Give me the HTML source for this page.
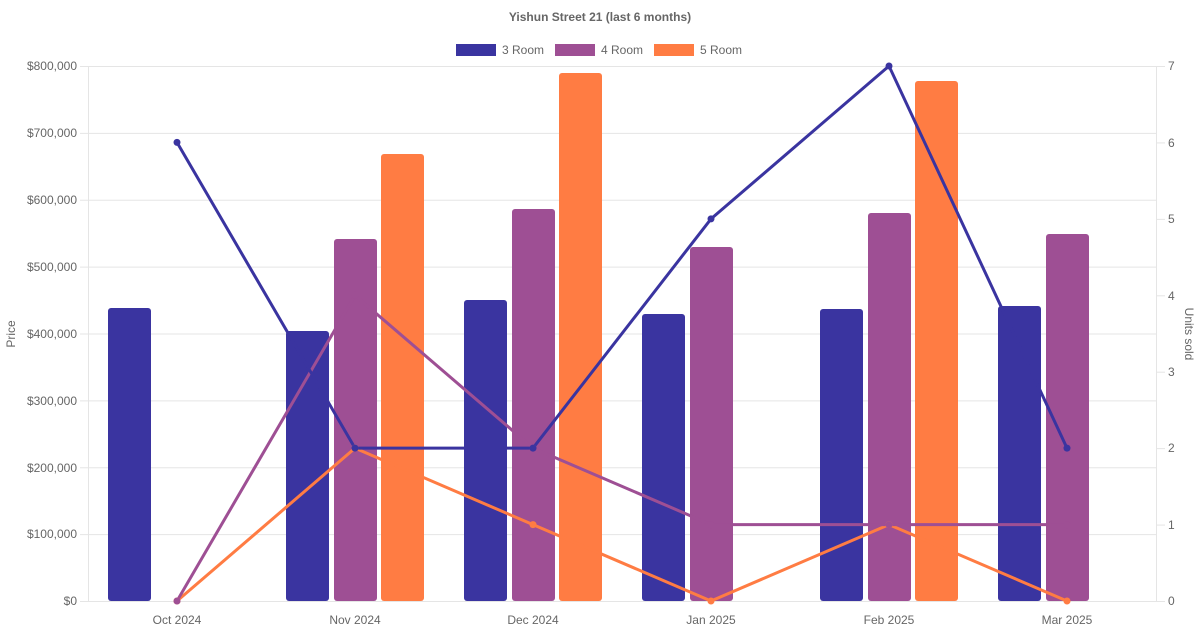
<!DOCTYPE html>
<html><head><meta charset="utf-8"><style>
html,body{margin:0;padding:0;background:#fff;}
svg{display:block;font-family:"Liberation Sans",sans-serif;}
</style></head><body>
<svg width="1200" height="630" xmlns="http://www.w3.org/2000/svg">
<text x="600" y="21" text-anchor="middle" font-size="12" font-weight="bold" fill="#666">Yishun Street 21 (last 6 months)</text>
<rect x="456" y="44" width="40" height="12" fill="#3a34a0"/><text x="502" y="54" font-size="12" fill="#666">3 Room</text>
<rect x="555" y="44" width="40" height="12" fill="#9e4f94"/><text x="601" y="54" font-size="12" fill="#666">4 Room</text>
<rect x="654" y="44" width="40" height="12" fill="#ff7c43"/><text x="700" y="54" font-size="12" fill="#666">5 Room</text>
<g stroke="#e5e5e5" stroke-width="1">
<line x1="80" y1="66.5" x2="1156" y2="66.5"/>
<line x1="80" y1="133.4" x2="1156" y2="133.4"/>
<line x1="80" y1="200.3" x2="1156" y2="200.3"/>
<line x1="80" y1="267.1" x2="1156" y2="267.1"/>
<line x1="80" y1="334" x2="1156" y2="334"/>
<line x1="80" y1="400.9" x2="1156" y2="400.9"/>
<line x1="80" y1="467.8" x2="1156" y2="467.8"/>
<line x1="80" y1="534.6" x2="1156" y2="534.6"/>
<line x1="80" y1="601.5" x2="1165" y2="601.5"/>
<line x1="88.5" y1="66" x2="88.5" y2="601"/>
<line x1="1156.5" y1="66" x2="1156.5" y2="601"/>
<line x1="1156" y1="66.5" x2="1165" y2="66.5"/>
<line x1="1156" y1="142.9" x2="1165" y2="142.9"/>
<line x1="1156" y1="219.4" x2="1165" y2="219.4"/>
<line x1="1156" y1="295.8" x2="1165" y2="295.8"/>
<line x1="1156" y1="372.2" x2="1165" y2="372.2"/>
<line x1="1156" y1="448.6" x2="1165" y2="448.6"/>
<line x1="1156" y1="525.1" x2="1165" y2="525.1"/>
</g>
<g font-size="12" fill="#666" text-anchor="end">
<text x="77" y="70">$800,000</text><text x="77" y="137">$700,000</text><text x="77" y="204">$600,000</text><text x="77" y="271">$500,000</text><text x="77" y="338">$400,000</text><text x="77" y="405">$300,000</text><text x="77" y="472">$200,000</text><text x="77" y="538">$100,000</text><text x="77" y="605">$0</text>
</g>
<g font-size="12" fill="#666">
<text x="1168" y="70">7</text><text x="1168" y="147">6</text><text x="1168" y="223">5</text><text x="1168" y="300">4</text><text x="1168" y="376">3</text><text x="1168" y="452">2</text><text x="1168" y="529">1</text><text x="1168" y="605">0</text>
</g>
<g font-size="12" fill="#666" text-anchor="middle">
<text x="177" y="624">Oct 2024</text><text x="355" y="624">Nov 2024</text><text x="533" y="624">Dec 2024</text><text x="711" y="624">Jan 2025</text><text x="889" y="624">Feb 2025</text><text x="1067" y="624">Mar 2025</text>
</g>
<text transform="translate(15,334) rotate(-90)" font-size="12" fill="#666" text-anchor="middle">Price</text>
<text transform="translate(1185,334) rotate(90)" font-size="12" fill="#666" text-anchor="middle">Units sold</text>
<g fill="#3a34a0">
<rect x="108" y="308" width="43" height="293" rx="3"/>
<rect x="286" y="331" width="43" height="270" rx="3"/>
<rect x="464" y="300" width="43" height="301" rx="3"/>
<rect x="642" y="314" width="43" height="287" rx="3"/>
<rect x="820" y="309" width="43" height="292" rx="3"/>
<rect x="998" y="306" width="43" height="295" rx="3"/>
</g>
<g fill="#9e4f94">
<rect x="334" y="239" width="43" height="362" rx="3"/>
<rect x="512" y="209" width="43" height="392" rx="3"/>
<rect x="690" y="247" width="43" height="354" rx="3"/>
<rect x="868" y="213" width="43" height="388" rx="3"/>
<rect x="1046" y="234" width="43" height="367" rx="3"/>
</g>
<g fill="#ff7c43">
<rect x="381" y="154" width="43" height="447" rx="3"/>
<rect x="559" y="73" width="43" height="528" rx="3"/>
<rect x="915" y="81" width="43" height="520" rx="3"/>
</g>
<g fill="none" stroke-width="3" stroke-linejoin="round">
<polyline stroke="#ff7c43" points="177,601 355,448.1 533,524.6 711,601 889,524.6 1067,601"/>
<polyline stroke="#9e4f94" points="177,601 355,295.3 533,448.1 711,524.6 889,524.6 1067,524.6"/>
<polyline stroke="#3a34a0" points="177,142.4 355,448.1 533,448.1 711,218.9 889,66 1067,448.1"/>
</g>
<g fill="#ff7c43"><circle cx="177" cy="601" r="3.5"/><circle cx="355" cy="448.1" r="3.5"/><circle cx="533" cy="524.6" r="3.5"/><circle cx="711" cy="601" r="3.5"/><circle cx="889" cy="524.6" r="3.5"/><circle cx="1067" cy="601" r="3.5"/></g>
<g fill="#9e4f94"><circle cx="177" cy="601" r="3.5"/><circle cx="355" cy="295.3" r="3.5"/><circle cx="533" cy="448.1" r="3.5"/><circle cx="711" cy="524.6" r="3.5"/><circle cx="889" cy="524.6" r="3.5"/><circle cx="1067" cy="524.6" r="3.5"/></g>
<g fill="#3a34a0"><circle cx="177" cy="142.4" r="3.5"/><circle cx="355" cy="448.1" r="3.5"/><circle cx="533" cy="448.1" r="3.5"/><circle cx="711" cy="218.9" r="3.5"/><circle cx="889" cy="66" r="3.5"/><circle cx="1067" cy="448.1" r="3.5"/></g>
</svg>
</body></html>
